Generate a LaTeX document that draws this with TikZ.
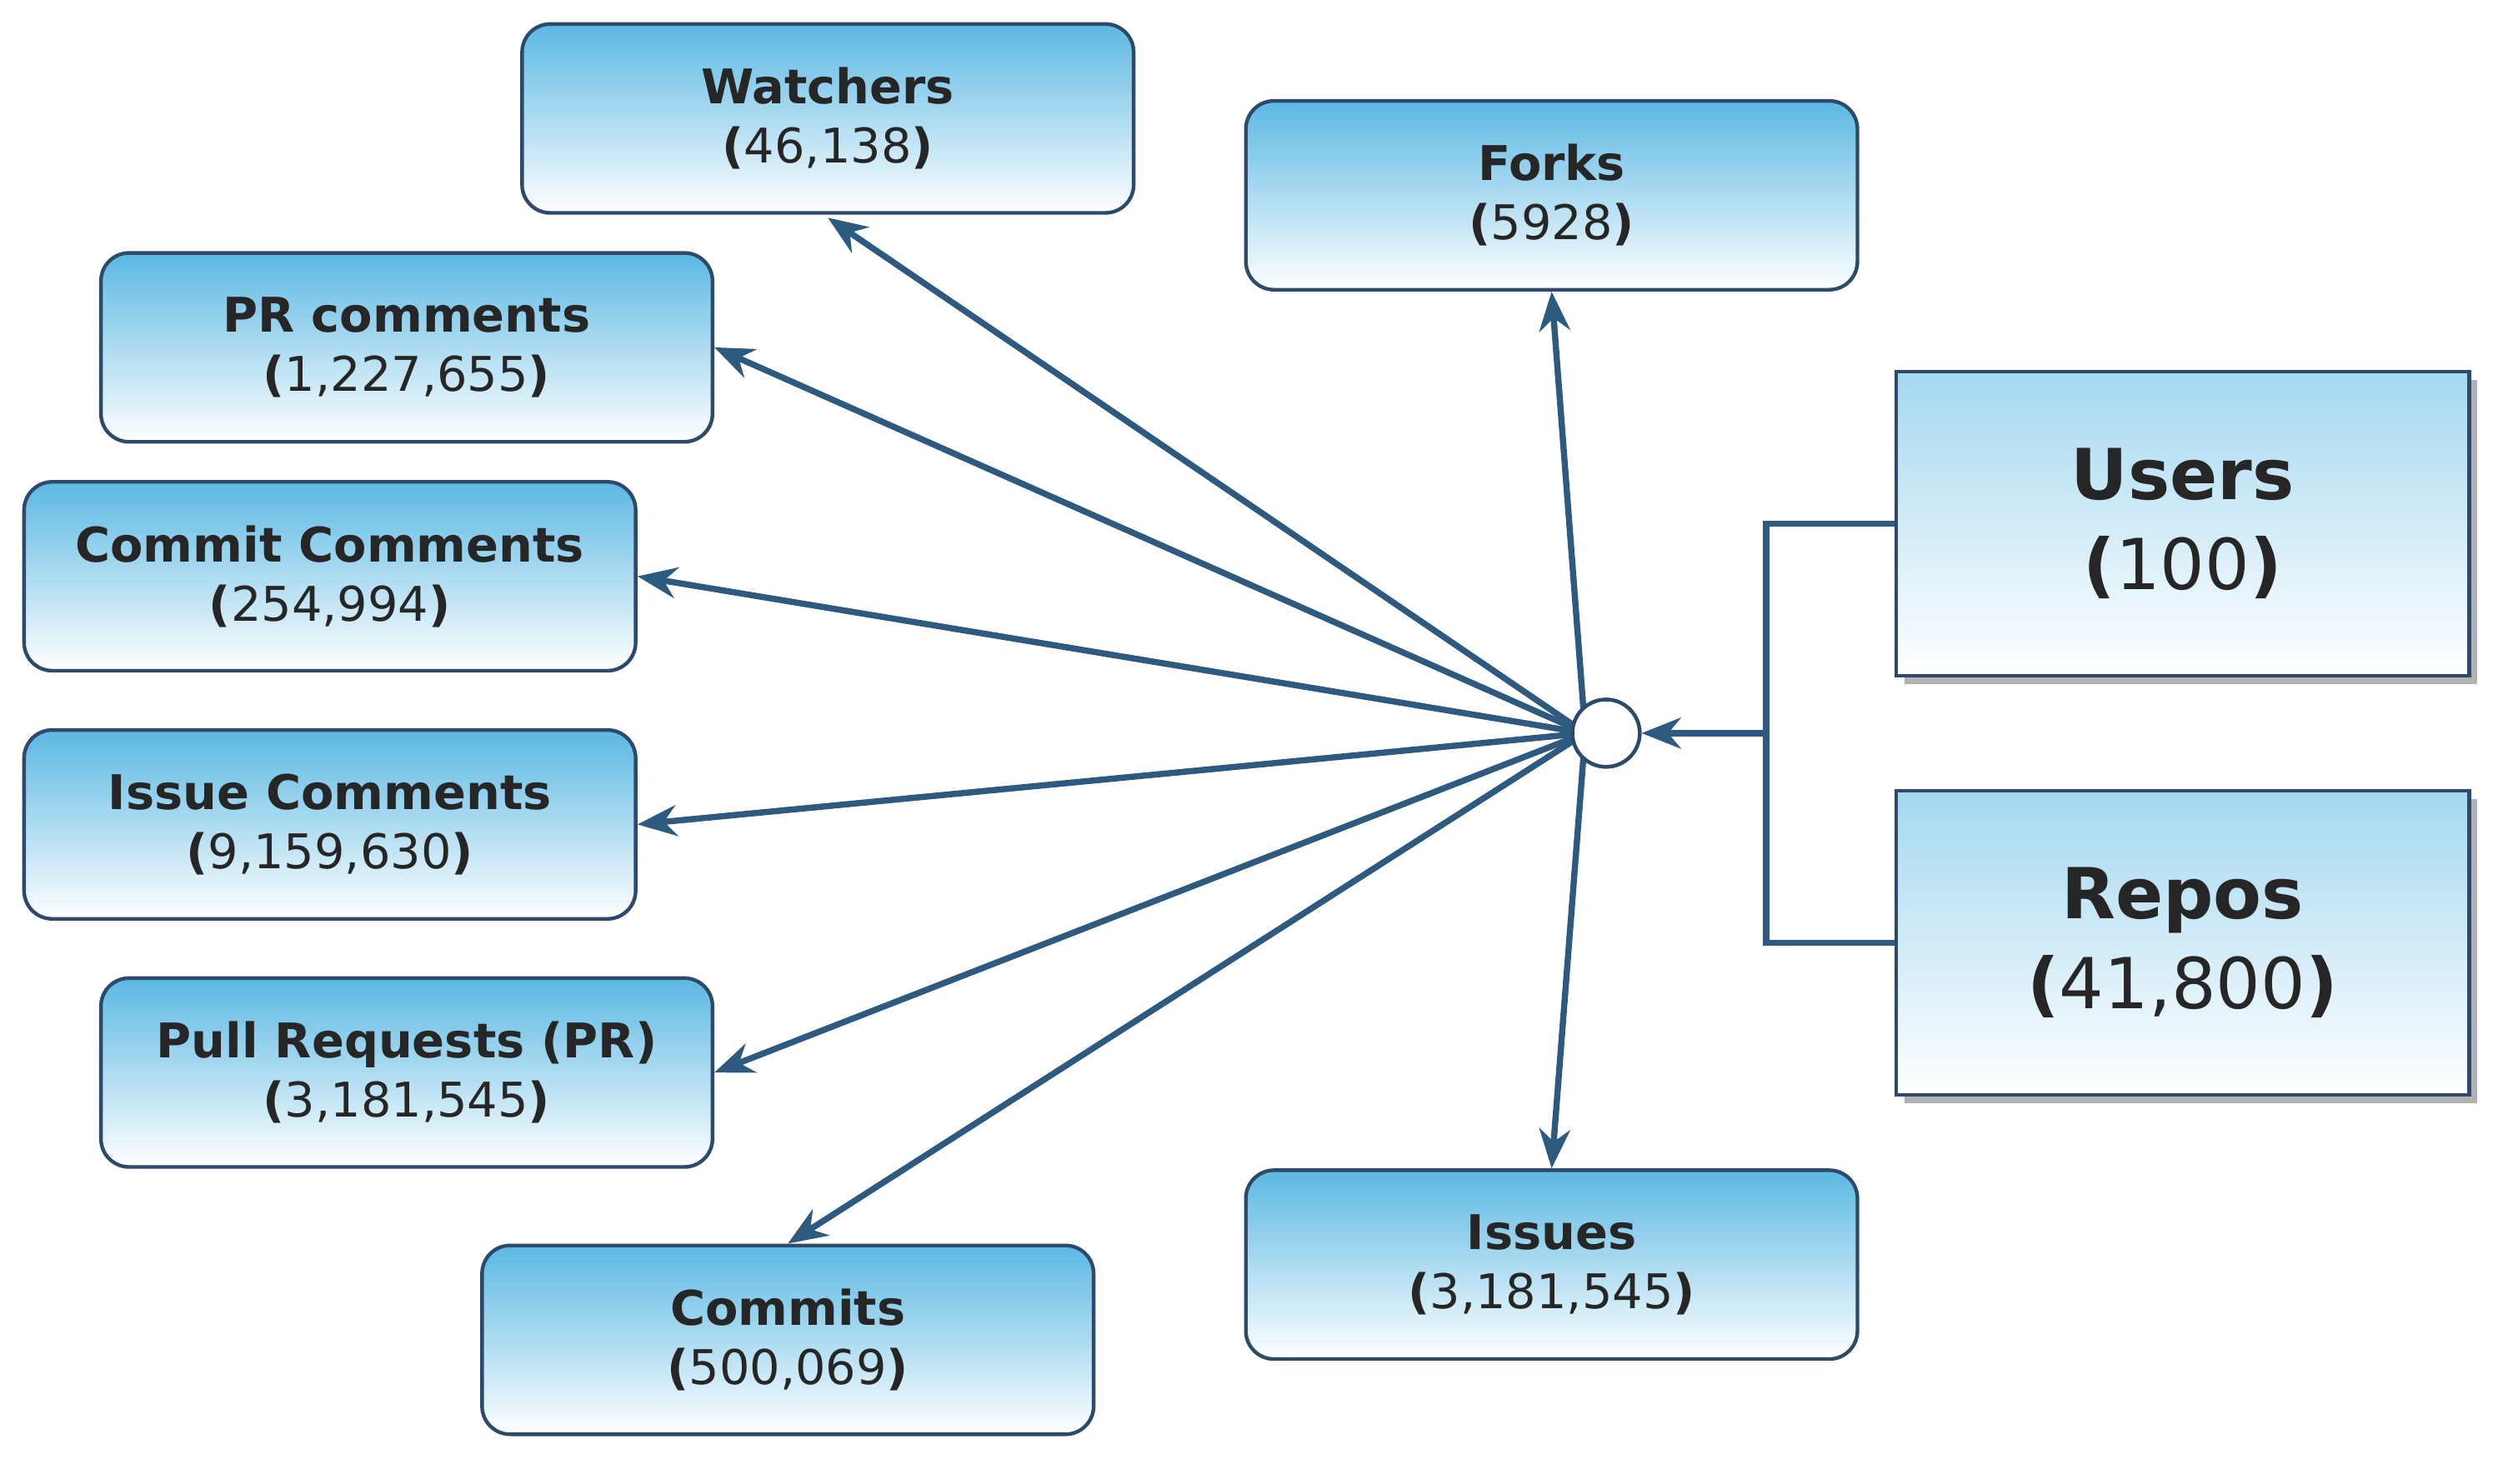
\documentclass[tikz,border=0pt]{standalone}
\usepackage{fontspec}
\setmainfont{DejaVu Sans}
\usetikzlibrary{arrows.meta,shadows}
\definecolor{bd}{HTML}{2E4A6B}
\definecolor{topb}{HTML}{5BB8E3}
\definecolor{ln}{HTML}{2E5A80}
\begin{document}
\begin{tikzpicture}[x=0.02cm,y=-0.02cm,
 box/.style={draw=bd,line width=1.3pt,rounded corners=10pt,top color=topb,bottom color=white,
   minimum width=7.64cm,minimum height=2.36cm,align=center,font=\fontsize{17}{21}\selectfont,text=black!85},
 big/.style={draw=bd,line width=1.3pt,top color=topb!55,bottom color=white,
   minimum width=7.16cm,minimum height=3.8cm,align=center,font=\fontsize{25}{32}\selectfont,text=black!85,
   drop shadow={shadow xshift=3pt,shadow yshift=-3pt,fill=black!30,opacity=1}},
 arr/.style={draw=ln,line width=2.2pt,-{Stealth[length=14pt,width=11pt]}}]
\useasboundingbox (0,0) rectangle (1560,927);
\node[box] (watch) at (517,74) {\textbf{Watchers}\\\textbf{(}46,138\textbf{)}};
\node[box] (forks) at (969,122) {\textbf{Forks}\\\textbf{(}5928\textbf{)}};
\node[box] (prc) at (254,217) {\textbf{PR comments}\\\textbf{(}1,227,655\textbf{)}};
\node[box] (cc) at (206,360) {\textbf{Commit Comments}\\\textbf{(}254,994\textbf{)}};
\node[box] (ic) at (206,515) {\textbf{Issue Comments}\\\textbf{(}9,159,630\textbf{)}};
\node[box] (pr) at (254,670) {\textbf{Pull Requests (PR)}\\\textbf{(}3,181,545\textbf{)}};
\node[box] (com) at (492,837) {\textbf{Commits}\\\textbf{(}500,069\textbf{)}};
\node[box] (iss) at (969,790) {\textbf{Issues}\\\textbf{(}3,181,545\textbf{)}};
\node[big] (users) at (1363,327) {\textbf{Users}\\\textbf{(}100\textbf{)}};
\node[big] (repos) at (1363,589) {\textbf{Repos}\\\textbf{(}41,800\textbf{)}};
\node[circle,draw=bd,line width=1.3pt,fill=white,minimum size=0.84cm,inner sep=0] (hub) at (1003,458) {};
\coordinate (j) at (1103,458);
\draw[draw=ln,line width=2.2pt] (users.west) -| (j) |- (repos.west);
\draw[arr] (j) -- (hub.east);
\coordinate (h) at (990,458);
\draw[arr] (h) -- (517,136);
\draw[arr] (h) -- (prc.east);
\draw[arr] (h) -- (cc.east);
\draw[arr] (h) -- (ic.east);
\draw[arr] (h) -- (pr.east);
\draw[arr] (h) -- (com.north);
\draw[arr] (h) -- (forks.south);
\draw[arr] (h) -- (iss.north);
\node[circle,draw=bd,line width=1.3pt,fill=white,minimum size=0.84cm,inner sep=0] at (hub) {};
\end{tikzpicture}
\end{document}
